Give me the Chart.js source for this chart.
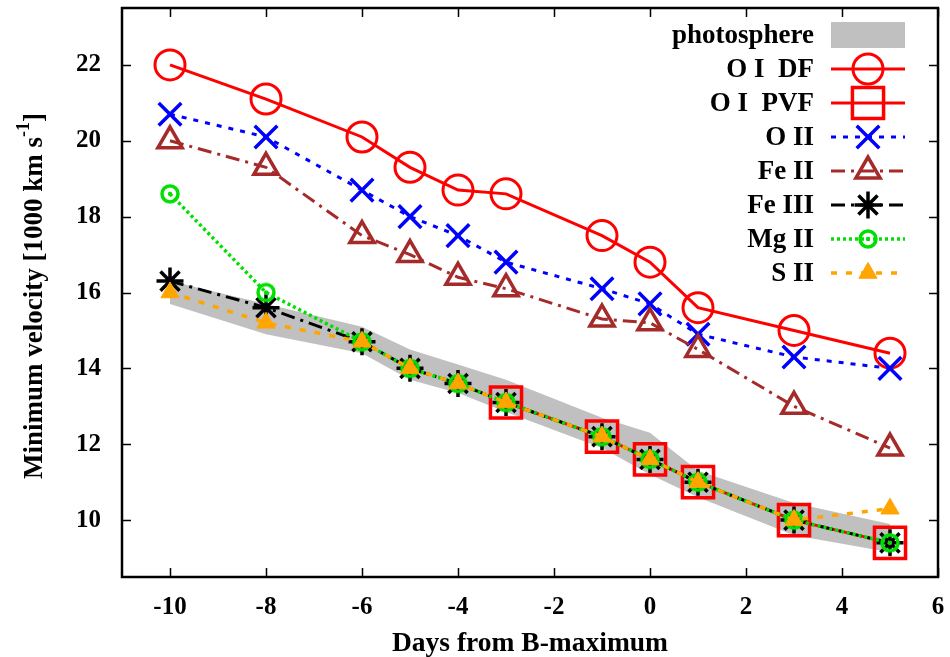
<!DOCTYPE html>
<html>
<head>
<meta charset="utf-8">
<script src="https://cdn.jsdelivr.net/npm/chart.js@4.4.0/dist/chart.umd.min.js"></script>
<style>
  html, body { margin: 0; padding: 0; background: #fff; }
  #wrap { width: 950px; height: 657px; position: relative; }
</style>
</head>
<body>
<div id="wrap"><canvas id="velocityChart"></canvas></div>
<script>
// days from B maximum
const days = [-10, -8, -6, -5, -4, -3, -1, 0, 1, 3, 5];
const pvfDays = [-3, -1, 0, 1, 3, 5];

// velocities in 1000 km/s
const photoUpper = [16.3, 15.7, 15.1, 14.5, 14.1, 13.7, 12.7, 12.3, 11.3, 10.45, 9.9];
const photoLower = [15.7, 14.9, 14.4, 13.7, 13.35, 12.85, 11.9, 11.2, 10.6, 9.6, 9.15];
const oiDF = [22.0, 21.1, 20.1, 19.3, 18.7, 18.6, 17.5, 16.8, 15.6, 15.0, 14.4];
const oiPVF = [13.1, 12.2, 11.6, 11.0, 10.0, 9.4];
const oII = [20.7, 20.1, 18.7, 18.0, 17.5, 16.8, 16.1, 15.7, 14.9, 14.3, 14.0];
const feII = [20.0, 19.3, 17.5, 17.0, 16.4, 16.1, 15.3, 15.2, 14.5, 13.0, 11.9];
const feIII = [16.3, 15.6, 14.7, 14.0, 13.6, 13.1, 12.2, 11.6, 11.0, 10.0, 9.4];
const mgII = [18.6, 16.0, 14.7, 14.0, 13.6, 13.1, 12.2, 11.6, 11.0, 10.0, 9.4];
const sII = [16.0, 15.2, 14.7, 14.0, 13.6, 13.1, 12.2, 11.6, 11.0, 10.0, 10.3];

const xTicks = [-10, -8, -6, -4, -2, 0, 2, 4, 6];
const yTicks = [10, 12, 14, 16, 18, 20, 22];

const serif = "'Liberation Serif', 'Times New Roman', serif";
const green = '#00e000';

// circle with a dot in the middle, for Mg II
function ringMarker(color) {
    const c = document.createElement('canvas');
    c.width = 24;
    c.height = 24;
    const g = c.getContext('2d');
    g.strokeStyle = color;
    g.lineWidth = 3.5;
    g.beginPath();
    g.arc(12, 12, 8, 0, Math.PI * 2);
    g.stroke();
    g.fillStyle = color;
    g.beginPath();
    g.arc(12, 12, 2.2, 0, Math.PI * 2);
    g.fill();
    return c;
}

function series(label, xs, ys, style) {
    return Object.assign({
        label: label,
        data: xs.map((d, i) => ({ x: d, y: ys[i] })),
        fill: false,
        tension: 0
    }, style);
}

function lineStyle(color, width, dash, pointStyle, radius, pointWidth, fillColor, order) {
    return {
        borderColor: color,
        borderWidth: width,
        borderDash: dash,
        pointStyle: pointStyle,
        pointRadius: radius,
        pointBorderWidth: pointWidth,
        pointBorderColor: color,
        pointBackgroundColor: fillColor || 'rgba(0,0,0,0)',
        order: order
    };
}

const datasets = [
    series('photosphere', days, photoUpper, {
        fill: '+1', backgroundColor: '#c0c0c0', borderColor: 'rgba(0,0,0,0)',
        borderWidth: 0, pointRadius: 0, order: 20
    }),
    series('photosphere low', days, photoLower, {
        borderColor: 'rgba(0,0,0,0)', borderWidth: 0, pointRadius: 0, order: 19
    }),
    series('O I  DF', days, oiDF, lineStyle('#ff0000', 3, [], 'circle', 15, 3, null, 8)),
    series('O I  PVF', pvfDays, oiPVF, lineStyle('#ff0000', 3, [], 'rect', 22, 3.5, null, 7)),
    series('O II', days, oII, lineStyle('#0000ff', 3, [5, 7], 'crossRot', 16, 3.5, null, 6)),
    series('Fe II', days, feII, lineStyle('#a52a2a', 3, [14, 6, 3, 6], 'triangle', 14, 3.5, null, 5)),
    series('Fe III', days, feIII, lineStyle('#000000', 3, [14, 6, 3, 6], 'star', 13.5, 3.5, null, 4)),
    series('Mg II', days, mgII, lineStyle(green, 3.5, [3, 3], ringMarker(green), 10, 0, null, 3)),
    series('S II', days, sII, lineStyle('#ffa500', 3.5, [6, 9], 'triangle', 10.5, 1, '#ffa500', 1))
];

// legend rows: label, dataset index
const legendRows = [
    ['photosphere', 0], ['O I  DF', 2], ['O I  PVF', 3], ['O II', 4],
    ['Fe II', 5], ['Fe III', 6], ['Mg II', 7], ['S II', 8]
];

const decorations = {
    id: 'decorations',
    afterDraw(chart) {
        const { ctx, chartArea: a, scales: { x, y } } = chart;
        ctx.save();

        // inward ticks on all sides
        ctx.strokeStyle = '#000';
        ctx.lineWidth = 1.5;
        ctx.setLineDash([]);
        ctx.beginPath();
        xTicks.forEach(v => {
            const px = Math.round(x.getPixelForValue(v)) + 0.5;
            ctx.moveTo(px, a.bottom);
            ctx.lineTo(px, a.bottom - 9);
            ctx.moveTo(px, a.top);
            ctx.lineTo(px, a.top + 9);
        });
        yTicks.forEach(v => {
            const py = Math.round(y.getPixelForValue(v)) + 0.5;
            ctx.moveTo(a.left, py);
            ctx.lineTo(a.left + 9, py);
            ctx.moveTo(a.right, py);
            ctx.lineTo(a.right - 9, py);
        });
        ctx.stroke();

        // frame
        ctx.lineWidth = 2.5;
        ctx.strokeRect(a.left, a.top, a.right - a.left, a.bottom - a.top);

        // axis titles
        ctx.fillStyle = '#000';
        ctx.font = 'bold 27.5px ' + serif;
        ctx.textAlign = 'center';
        ctx.textBaseline = 'alphabetic';
        ctx.fillText('Days from B-maximum', (a.left + a.right) / 2, 651);

        ctx.save();
        ctx.translate(42, 296);
        ctx.rotate(-Math.PI / 2);
        const mainFont = 'bold 27px ' + serif;
        const supFont = 'bold 18px ' + serif;
        ctx.font = mainFont;
        const t1 = 'Minimum velocity [1000 km s';
        const w1 = ctx.measureText(t1).width;
        const w3 = ctx.measureText(']').width;
        ctx.font = supFont;
        const w2 = ctx.measureText('-1').width;
        const sx = -(w1 + w2 + w3) / 2;
        ctx.textAlign = 'left';
        ctx.font = mainFont;
        ctx.fillText(t1, sx, 0);
        ctx.font = supFont;
        ctx.fillText('-1', sx + w1, -13);
        ctx.font = mainFont;
        ctx.fillText(']', sx + w1 + w2, 0);
        ctx.restore();

        // legend
        const textRight = 814, lx0 = 831, lx1 = 905, mx = 868;
        legendRows.forEach(([label, idx], row) => {
            const ly = 35 + row * 34;
            ctx.font = 'bold 27px ' + serif;
            ctx.textAlign = 'right';
            ctx.textBaseline = 'middle';
            ctx.fillStyle = '#000';
            ctx.fillText(label, textRight, ly + 1);

            const ds = chart.data.datasets[idx];
            if (idx === 0) {
                ctx.fillStyle = ds.backgroundColor;
                ctx.fillRect(lx0, ly - 13, lx1 - lx0, 26);
                return;
            }
            ctx.strokeStyle = ds.borderColor;
            ctx.lineWidth = ds.borderWidth;
            ctx.setLineDash(ds.borderDash);
            ctx.beginPath();
            ctx.moveTo(lx0, ly);
            ctx.lineTo(lx1, ly);
            ctx.stroke();
            ctx.setLineDash([]);
            ctx.strokeStyle = ds.pointBorderColor;
            ctx.fillStyle = ds.pointBackgroundColor;
            ctx.lineWidth = ds.pointBorderWidth;
            if (Chart.helpers && Chart.helpers.drawPoint) {
                Chart.helpers.drawPoint(ctx, {
                    pointStyle: ds.pointStyle,
                    radius: ds.pointRadius,
                    rotation: 0,
                    borderWidth: ds.pointBorderWidth
                }, mx, ly);
            }
        });
        ctx.restore();
    }
};

const tickFont = { family: serif, weight: 'bold', size: 25 };

// keep the plot box where the reference has it
function noPadding(scale) {
    scale.paddingTop = 0;
    scale.paddingBottom = 0;
    scale.paddingLeft = 0;
    scale.paddingRight = 0;
}

new Chart(document.getElementById('velocityChart'), {
    type: 'line',
    data: { datasets: datasets },
    options: {
        responsive: true,
        maintainAspectRatio: false,
        animation: false,
        events: [],
        layout: { autoPadding: false, padding: { top: 8, right: 12, left: 0, bottom: 0 } },
        plugins: {
            legend: { display: false },
            tooltip: { enabled: false },
            filler: { propagate: false }
        },
        scales: {
            x: {
                type: 'linear',
                min: -11,
                max: 6,
                grid: { display: false },
                border: { display: false },
                afterBuildTicks: axis => { axis.ticks = xTicks.map(v => ({ value: v })); },
                afterFit: scale => { scale.height = 80; noPadding(scale); },
                ticks: { font: tickFont, color: '#000', padding: 8, maxRotation: 0 }
            },
            y: {
                type: 'linear',
                min: 8.5,
                max: 23.5,
                grid: { display: false },
                border: { display: false },
                afterBuildTicks: axis => { axis.ticks = yTicks.map(v => ({ value: v })); },
                afterFit: scale => { scale.width = 122; noPadding(scale); },
                ticks: { font: tickFont, color: '#000', padding: 13 }
            }
        }
    },
    plugins: [decorations]
});
</script>
</body>
</html>
